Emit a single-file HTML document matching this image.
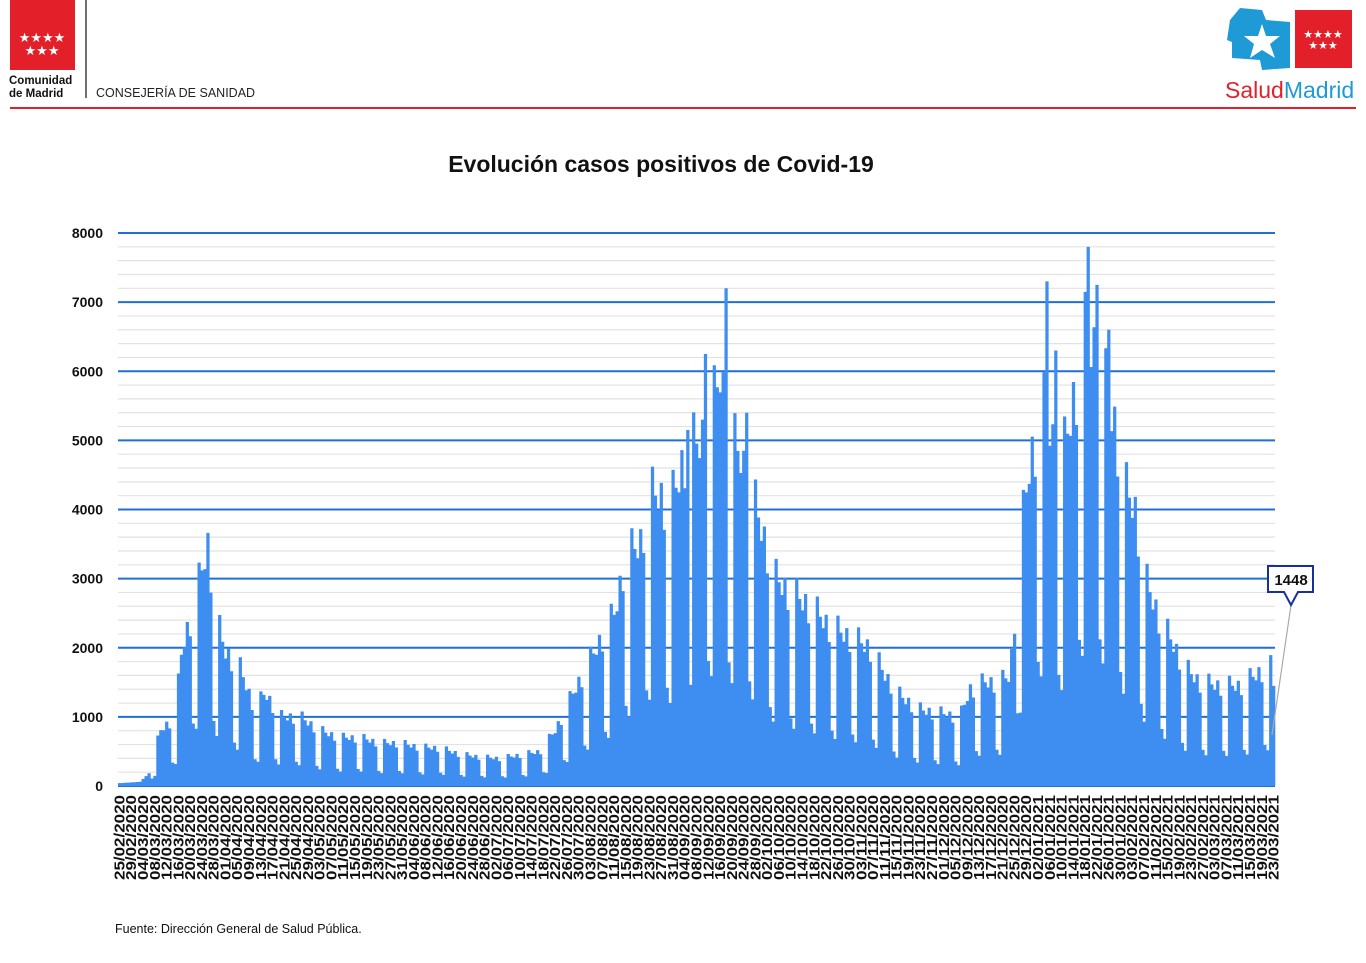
<!DOCTYPE html>
<html><head><meta charset="utf-8"><style>
body{margin:0;background:#fff;width:1366px;height:958px;overflow:hidden;font-family:"Liberation Sans",sans-serif}
</style></head><body>
<svg id="s" width="1366" height="958" xmlns="http://www.w3.org/2000/svg" font-family="Liberation Sans, sans-serif">
<rect x="10" y="0" width="65" height="70" fill="#e3202a"/>
<text x="42" y="42" fill="#fff" font-size="13" text-anchor="middle">★★★★</text>
<text x="42" y="55" fill="#fff" font-size="13" text-anchor="middle">★★★</text>
<text x="9" y="84" font-size="11.5" font-weight="bold" fill="#111">Comunidad</text>
<text x="9" y="97" font-size="11.5" font-weight="bold" fill="#111">de Madrid</text>
<line x1="86" y1="0" x2="86" y2="98" stroke="#111" stroke-width="1.2"/>
<text x="96" y="97" font-size="12.5" fill="#222">CONSEJERÍA DE SANIDAD</text>
<line x1="10" y1="108" x2="1356" y2="108" stroke="#e3202a" stroke-width="2"/>
<path d="M1240 8 L1262 10 L1266 20 L1290 22 L1290 68 L1262 70 L1260 60 L1232 58 L1232 42 L1227 40 L1230 20 Z" fill="#1e9ad6"/>
<path d="M1262 24 L1266 36 L1280 36 L1270 44 L1275 58 L1262 50 L1250 58 L1254 44 L1244 36 L1258 36 Z" fill="#fff"/>
<rect x="1295" y="10" width="57" height="58" fill="#e3202a"/>
<text x="1323" y="38" fill="#fff" font-size="11" text-anchor="middle">★★★★</text>
<text x="1323" y="49" fill="#fff" font-size="11" text-anchor="middle">★★★</text>
<text x="1225" y="98" font-size="23"><tspan fill="#e3202a">Salud</tspan><tspan fill="#1e9ad6">Madrid</tspan></text>
<text x="661" y="172" font-size="23" font-weight="bold" text-anchor="middle" fill="#111">Evolución casos positivos de Covid-19</text>
<g id="grid"></g><g id="bars"></g><g id="lbl"></g>
<line x1="1272" y1="735" x2="1291" y2="605" stroke="#aaa" stroke-width="1.2"/>
<path d="M1268 566 H1313 V592 H1298 L1291 605 L1284 592 H1268 Z" fill="#fff" stroke="#1a2f9a" stroke-width="2"/>
<text x="1291" y="585" font-size="15" font-weight="bold" text-anchor="middle" fill="#111">1448</text>
<text x="115" y="933" font-size="12.5" fill="#111">Fuente: Dirección General de Salud Pública.</text>
</svg>
<script>
const NS="http://www.w3.org/2000/svg";
const y0=786,py=553/8000,x0=118,N=393,dw=(1275-118)/N;
function el(p,t,a,txt){const e=document.createElementNS(NS,t);for(const k in a)e.setAttribute(k,a[k]);if(txt)e.textContent=txt;p.appendChild(e);return e;}
const g=document.getElementById('grid');
for(let v=200;v<=8000;v+=200){const y=y0-v*py;if(v%1000)el(g,'line',{x1:118,x2:1275,y1:y,y2:y,stroke:'#e2e2e2','stroke-width':1.2});}
for(let v=0;v<=8000;v+=1000){const y=y0-v*py;el(g,'line',{x1:118,x2:1275,y1:y,y2:y,stroke:'#1f6fd6','stroke-width':2});
el(g,'text',{x:103,y:y+5,'font-size':14,'font-weight':'bold','text-anchor':'end',fill:'#111'},String(v));}
const K=[[118,40],[140,60],[150,200],[160,800],[175,1000],[182,2000],[190,2400],[200,3000],[208,3500],[215,2500],[225,1950],[240,1700],[255,1100],[265,1350],[280,1000],[300,1000],[320,800],[340,700],[360,700],[380,620],[400,620],[420,560],[440,550],[460,460],[480,420],[500,400],[520,450],[540,500],[555,800],[575,1400],[600,2100],[615,2500],[625,3300],[640,3500],[650,4200],[660,4200],[670,4000],[685,4800],[700,5000],[710,5200],[720,6000],[730,5000],[740,4800],[760,3800],[775,3000],[790,2800],[810,2600],[830,2300],[850,2150],[870,2000],[885,1600],[900,1300],[920,1100],[940,1050],[960,1000],[970,1400],[985,1500],[1000,1500],[1010,1600],[1020,3500],[1030,4700],[1045,5500],[1060,4500],[1075,5700],[1085,6500],[1095,6300],[1105,5800],[1115,5200],[1125,4300],[1135,4000],[1145,3000],[1160,2400],[1175,2000],[1185,1700],[1200,1500],[1220,1450],[1240,1450],[1255,1600],[1270,1750],[1276,1448]];
function env(x){for(let i=1;i<K.length;i++)if(x<=K[i][0]){const a=K[i-1],b=K[i];return a[1]+(b[1]-a[1])*(x-a[0])/(b[0]-a[0]);}return 1448;}
const spikes={1046:7300,1053:6300,1086:7800,1095:7250,725:7200,705:6250,685:5150,745:5400,1106:6600};
const fac=[1,0.95,1.05,0.9,0.35,0.3,1.1];
const b=document.getElementById('bars');let d="";
for(let i=0;i<N;i++){const x=x0+i*dw;let v=env(x+dw/2);if(x>150)v*=fac[i%7];
for(const s in spikes){if(Math.abs(x-s)<dw/2+0.01)v=spikes[s];}
if(i==N-1)v=1448;const h=v*py;d+=`M${x.toFixed(2)} ${y0}V${(y0-h).toFixed(2)}H${(x+dw+0.3).toFixed(2)}V${y0}Z`;}
el(b,'path',{d:d,fill:'#3d8ef0'});
const L=document.getElementById('lbl');const start=new Date(2020,1,25);
for(let i=0;i<N;i+=4){const dt=new Date(start.getTime()+i*86400000+3600000*12);
const s=String(dt.getDate()).padStart(2,'0')+'/'+String(dt.getMonth()+1).padStart(2,'0')+'/'+dt.getFullYear();
const x=x0+i*dw+dw/2+5;
el(L,'text',{transform:`translate(${x.toFixed(1)},880) rotate(-90)`,'font-size':14.5,'font-weight':'bold',fill:'#111',textLength:85,lengthAdjust:'spacingAndGlyphs'},s);}
</script>
</body></html>
